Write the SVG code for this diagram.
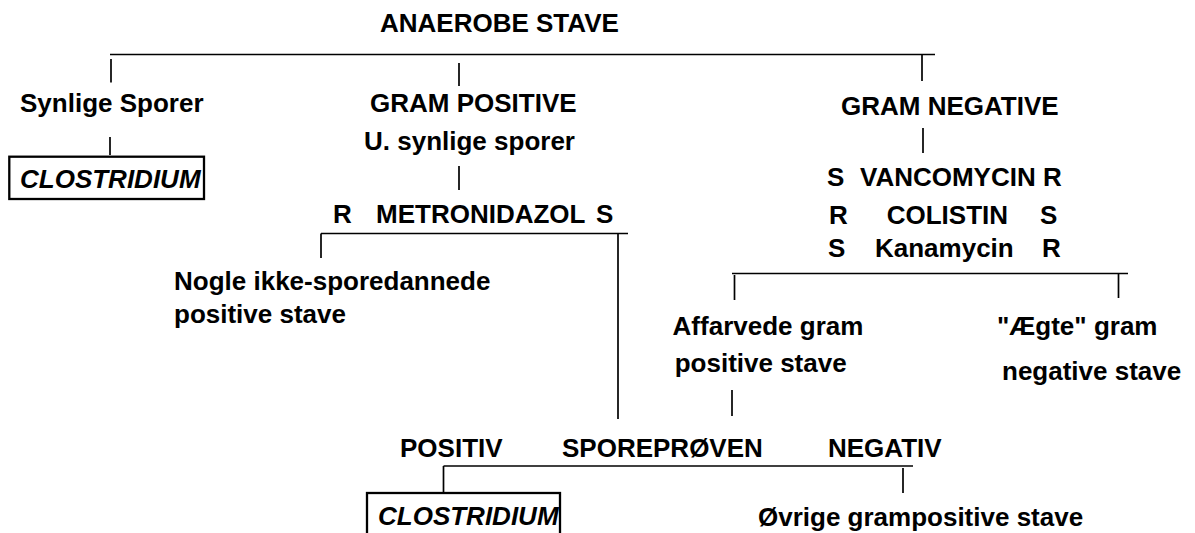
<svg xmlns="http://www.w3.org/2000/svg" width="1195" height="533" viewBox="0 0 1195 533">
<style>
text{font-family:"Liberation Sans",Arial,sans-serif;font-size:26px;font-weight:bold;fill:#000}
.it{font-style:italic}
line{stroke:#000;stroke-width:1.7}
.box{fill:none;stroke:#000;stroke-width:2.3}
</style>
<rect width="1195" height="533" fill="#fff"/>
<g id="connectors">
<line x1="110" y1="54.5" x2="935" y2="54.5"/>
<line x1="111" y1="59" x2="111" y2="82.5"/>
<line x1="459" y1="63" x2="459" y2="86"/>
<line x1="922" y1="54.5" x2="922" y2="81"/>
<line x1="110" y1="137" x2="110" y2="155"/>
<line x1="459" y1="166" x2="459" y2="190"/>
<line x1="321" y1="233.5" x2="628" y2="233.5"/>
<line x1="321" y1="233.5" x2="321" y2="258"/>
<line x1="618" y1="233.5" x2="618" y2="419"/>
<line x1="923" y1="128" x2="923" y2="153"/>
<line x1="732" y1="273.5" x2="1128" y2="273.5"/>
<line x1="734.5" y1="275" x2="734.5" y2="300"/>
<line x1="1118.5" y1="273.5" x2="1118.5" y2="298"/>
<line x1="732" y1="390" x2="732" y2="416"/>
<line x1="443.5" y1="466" x2="913" y2="466"/>
<line x1="443.5" y1="466" x2="443.5" y2="493"/>
<line x1="903" y1="468" x2="903" y2="493"/>
</g>
<g id="root"><text x="380" y="31.7">ANAEROBE STAVE</text></g>
<g id="synlige"><text x="20" y="111.7">Synlige Sporer</text></g>
<g id="clostridium1"><rect class="box" x="9.3" y="156.7" width="194.7" height="42.3"/><text class="it" x="20" y="188.3">CLOSTRIDIUM</text></g>
<g id="grampos"><text x="370" y="111.7">GRAM POSITIVE</text><text x="364" y="150">U. synlige sporer</text></g>
<g id="metronidazol"><text x="333" y="223">R</text><text x="376" y="223">METRONIDAZOL</text><text x="596" y="223">S</text></g>
<g id="nogle"><text x="174" y="290">Nogle ikke-sporedannede</text><text x="174" y="323.3">positive stave</text></g>
<g id="gramneg"><text x="841" y="115">GRAM NEGATIVE</text></g>
<g id="antibiotics">
<text x="827" y="185.5">S</text><text x="860" y="186">VANCOMYCIN</text><text x="1043" y="186">R</text>
<text x="829" y="224">R</text><text x="886.7" y="224">COLISTIN</text><text x="1040" y="223.5">S</text>
<text x="828" y="257">S</text><text x="875" y="257">Kanamycin</text><text x="1042" y="256.7">R</text>
</g>
<g id="affarvede"><text x="672.6" y="335">Affarvede gram</text><text x="674.7" y="371.7">positive stave</text></g>
<g id="aegte"><text x="997" y="335">"Ægte" gram</text><text x="1002" y="380">negative stave</text></g>
<g id="sporeproeven"><text x="400" y="457">POSITIV</text><text x="562" y="457">SPOREPRØVEN</text><text x="828" y="457">NEGATIV</text></g>
<g id="clostridium2"><rect class="box" x="367" y="493" width="193" height="42.3"/><text class="it" x="378" y="524.6">CLOSTRIDIUM</text></g>
<g id="oevrige"><text x="758" y="525.7">Øvrige grampositive stave</text></g>
</svg>
